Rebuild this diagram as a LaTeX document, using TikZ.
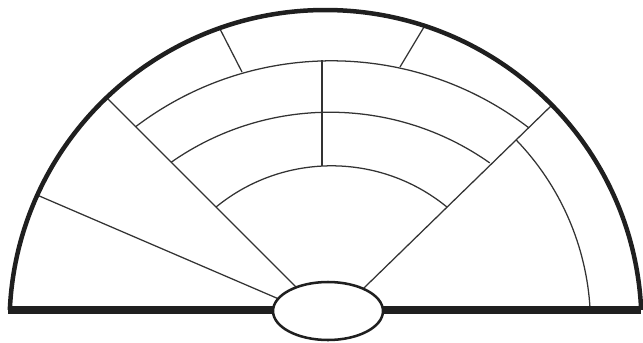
\documentclass[tikz,border=0pt]{standalone}
\usepackage{tikz}
\usetikzlibrary{calc}

\begin{document}
\begin{tikzpicture}[
  x=0.025cm, y=0.025cm,
  rim/.style={line width=3.2pt, draw=black!88},
  floor/.style={line width=5.7pt, draw=black!88},
  lane/.style={line width=0.9pt, draw=black!80},
  hub/.style={line width=1.8pt, draw=black!88, fill=white}]

\useasboundingbox (0,0) rectangle (643,-342);

% ================= spokes ================================================
\begin{scope}
  \coordinate (O)  at (325.5,-324);   % centre of the rim
  \coordinate (F)  at (330,-321);     % where the spokes meet
  \coordinate (sA) at (37,-195);
  \coordinate (sB) at (107,-98);
  \coordinate (sC) at (552,-105);

  \draw[lane] (sA)--(F);
  \draw[lane] (sB)--(F);
  \draw[lane] (sC)--(F);
\end{scope}

% ================= the rows ==============================================
\begin{scope}
  \coordinate (c1) at (331.5,-384.8);
  \coordinate (c2) at (330,-389.2);
  \coordinate (c3) at (331.5,-348.1);

  \draw[lane] (c1) ++(127.2:324) arc[start angle=127.2, end angle=52.5, radius=324];
  \draw[lane] (c2) ++(125.0:277) arc[start angle=125.0, end angle=54.8, radius=277];
  \draw[lane] (c3) ++(129.3:182.3) arc[start angle=129.3, end angle=50.7, radius=182.3];

  % the aisle in the middle
  \coordinate (t1) at (322,-60);
  \coordinate (t3) at (322,-166);
  \draw[lane] (t1)--(t3);

  % short cuts in the top row
  \coordinate (k1) at (220,-29);
  \coordinate (k2) at (242,-72);
  \coordinate (k3) at (424,-27);
  \coordinate (k4) at (400,-67);
  \draw[lane] (k1)--(k2);
  \draw[lane] (k3)--(k4);

  % the side lane on the right
  \draw[lane] (O) ++(44.0:265) arc[start angle=44.0, end angle=3.0, radius=265];
\end{scope}

% ================= rim, floor and hub ====================================
\draw[rim] (O) ++(177.44:316 and 314)
  arc[start angle=177.44, end angle=2.56, x radius=316, y radius=314];

\coordinate (fl) at (8,-310);
\coordinate (fr) at (641,-310);
\draw[floor] (fl)--(fr);

\coordinate (hc) at (328,-311);
\draw[hub] (hc) ellipse[x radius=55, y radius=29];

\end{tikzpicture}
\end{document}
